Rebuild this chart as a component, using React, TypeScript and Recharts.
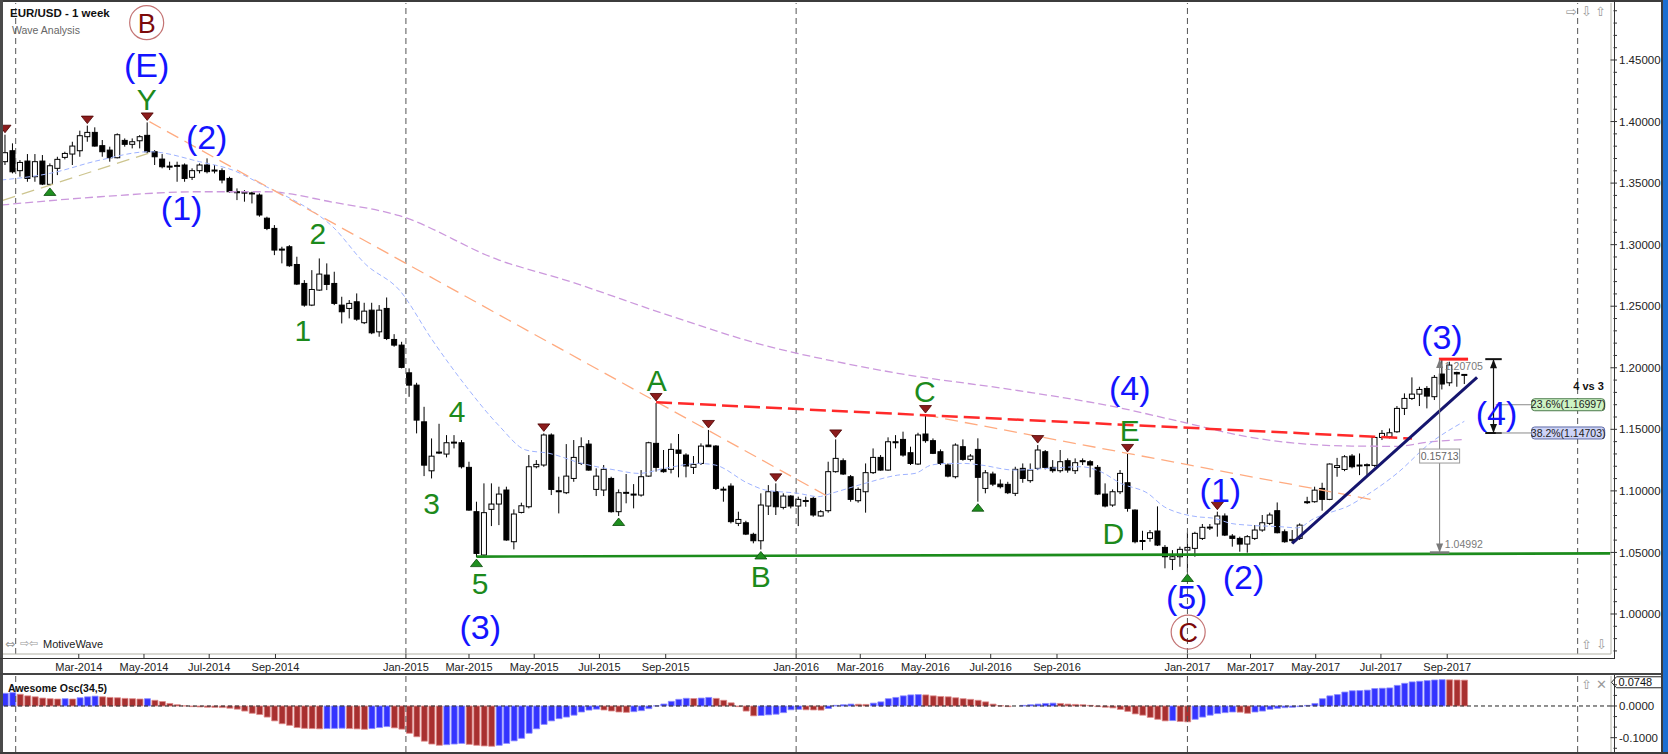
import React from 'react';
import { ComposedChart, Bar, Line, Scatter, XAxis, YAxis, ReferenceLine, ReferenceDot, Cell } from 'recharts';

const FONT = "'Liberation Sans', Arial, Helvetica, sans-serif";
const ICON_FONT = "'DejaVu Sans', sans-serif";

// ---------------- data ----------------
const FIRST_WEEK = '2013-12-22'; // week index 0

const OPEN = [
  1.3674, 1.3763, 1.3601, 1.3679, 1.3552, 1.3679, 1.3490, 1.3620, 1.3709, 1.3736,
  1.3763, 1.3877, 1.3912, 1.3804, 1.3768, 1.3706, 1.3847, 1.3815, 1.3844, 1.3888,
  1.3755, 1.3695, 1.3638, 1.3636, 1.3647, 1.3547, 1.3601, 1.3647, 1.3600, 1.3601,
  1.3538, 1.3430, 1.3427, 1.3420, 1.3403, 1.3215, 1.3132, 1.2964, 1.2983, 1.2839,
  1.2685, 1.2509, 1.2631, 1.2753, 1.2685, 1.2509, 1.2482, 1.2536, 1.2366, 1.2468,
  1.2292, 1.2482, 1.2230, 1.2184, 1.1959, 1.1859, 1.1561, 1.1163, 1.1312, 1.1299,
  1.1393, 1.1391, 1.1191, 1.0831, 1.0479, 1.0850, 1.0893, 1.1007, 1.0587, 1.0825,
  1.0871, 1.1196, 1.1210, 1.1454, 1.1001, 1.0985, 1.1101, 1.1223, 1.1380, 1.1012,
  1.1007, 1.1101, 1.0831, 1.0985, 1.0974, 1.0966, 1.1120, 1.1386, 1.1175, 1.1175,
  1.1332, 1.1291, 1.1191, 1.1223, 1.1372, 1.1364, 1.1012, 1.1039, 1.0736, 1.0741,
  1.0647, 1.0595, 1.0877, 1.0993, 1.0866, 1.0958, 1.0877, 1.0920, 1.0939, 1.0796,
  1.0839, 1.1156, 1.1245, 1.1115, 1.0920, 1.0993, 1.1148, 1.1272, 1.1169, 1.1399,
  1.1418, 1.1310, 1.1218, 1.1462, 1.1408, 1.1318, 1.1210, 1.1115, 1.1359, 1.1256,
  1.1337, 1.1020, 1.1137, 1.1055, 1.1053, 1.0980, 1.1183, 1.1083, 1.1183, 1.1318,
  1.1191, 1.1164, 1.1245, 1.1164, 1.1245, 1.1237, 1.1191, 1.0974, 1.0885, 1.0993,
  1.1066, 1.0844, 1.0595, 1.0614, 1.0674, 1.0541, 1.0444, 1.0465, 1.0519, 1.0533,
  1.0614, 1.0704, 1.0731, 1.0796, 1.0633, 1.0614, 1.0568, 1.0614, 1.0682, 1.0736,
  1.0839, 1.0668, 1.0596, 1.0614, 1.0912, 1.0912, 1.1020, 1.0931, 1.1190, 1.1174,
  1.1283, 1.1205, 1.1210, 1.1207, 1.1434, 1.1440, 1.1480, 1.1670, 1.1751, 1.1786,
  1.1832, 1.1765, 1.1949, 1.1878, 1.1962, 1.1940,
];
const HIGH = [
  1.3893, 1.3823, 1.3687, 1.3736, 1.3736, 1.3728, 1.3660, 1.3714, 1.3755, 1.3836,
  1.3926, 1.3967, 1.3953, 1.3850, 1.3796, 1.3904, 1.3863, 1.3863, 1.3890, 1.3993,
  1.3768, 1.3736, 1.3674, 1.3674, 1.3660, 1.3620, 1.3660, 1.3701, 1.3647, 1.3620,
  1.3552, 1.3457, 1.3443, 1.3430, 1.3416, 1.3227, 1.3159, 1.2983, 1.2996, 1.2902,
  1.2712, 1.2793, 1.2888, 1.2848, 1.2780, 1.2577, 1.2550, 1.2604, 1.2528, 1.2528,
  1.2509, 1.2571, 1.2273, 1.2211, 1.1995, 1.1878, 1.1683, 1.1426, 1.1545, 1.1453,
  1.1453, 1.1413, 1.1237, 1.0912, 1.1061, 1.1061, 1.1034, 1.1034, 1.0850, 1.0904,
  1.1291, 1.1250, 1.1467, 1.1467, 1.1115, 1.1380, 1.1413, 1.1435, 1.1413, 1.1183,
  1.1210, 1.1115, 1.1012, 1.1137, 1.1055, 1.1169, 1.1399, 1.1714, 1.1332, 1.1386,
  1.1462, 1.1305, 1.1283, 1.1386, 1.1495, 1.1372, 1.1034, 1.1061, 1.0831, 1.0757,
  1.0660, 1.0980, 1.1047, 1.1061, 1.0980, 1.0966, 1.0953, 1.0953, 1.0953, 1.0844,
  1.1237, 1.1418, 1.1264, 1.1129, 1.1028, 1.1223, 1.1345, 1.1291, 1.1435, 1.1453,
  1.1481, 1.1359, 1.1472, 1.1616, 1.1426, 1.1337, 1.1223, 1.1386, 1.1418, 1.1299,
  1.1427, 1.1169, 1.1156, 1.1093, 1.1074, 1.1196, 1.1223, 1.1223, 1.1372, 1.1332,
  1.1250, 1.1332, 1.1264, 1.1264, 1.1264, 1.1250, 1.1210, 1.1061, 1.1012, 1.1169,
  1.1300, 1.0850, 1.0676, 1.0682, 1.0874, 1.0560, 1.0519, 1.0547, 1.0660, 1.0668,
  1.0731, 1.0731, 1.0831, 1.0817, 1.0649, 1.0628, 1.0641, 1.0722, 1.0804, 1.0823,
  1.0906, 1.0687, 1.0682, 1.0736, 1.0952, 1.1034, 1.1066, 1.1223, 1.1268, 1.1290,
  1.1299, 1.1304, 1.1223, 1.1445, 1.1494, 1.1507, 1.1689, 1.1792, 1.1922, 1.1846,
  1.1851, 1.1941, 1.2070, 1.2049, 1.1968, 1.1949,
];
const LOW = [
  1.3647, 1.3579, 1.3552, 1.3511, 1.3511, 1.3484, 1.3477, 1.3565, 1.3693, 1.3647,
  1.3714, 1.3836, 1.3796, 1.3714, 1.3674, 1.3701, 1.3796, 1.3782, 1.3782, 1.3741,
  1.3647, 1.3620, 1.3606, 1.3511, 1.3511, 1.3525, 1.3579, 1.3579, 1.3579, 1.3498,
  1.3422, 1.3362, 1.3349, 1.3335, 1.3227, 1.3118, 1.2915, 1.2848, 1.2820, 1.2672,
  1.2496, 1.2501, 1.2625, 1.2631, 1.2509, 1.2360, 1.2401, 1.2382, 1.2355, 1.2273,
  1.2252, 1.2225, 1.2171, 1.1995, 1.1764, 1.1467, 1.1120, 1.1101, 1.1299, 1.1272,
  1.1345, 1.1182, 1.0839, 1.0462, 1.0470, 1.0714, 1.0722, 1.0595, 1.0525, 1.0817,
  1.0858, 1.1183, 1.1196, 1.0966, 1.0817, 1.0974, 1.1074, 1.1210, 1.1164, 1.0958,
  1.0958, 1.0823, 1.0796, 1.0899, 1.0858, 1.0953, 1.1115, 1.1156, 1.1148, 1.1142,
  1.1110, 1.1110, 1.1137, 1.1210, 1.1359, 1.1007, 1.0912, 1.0736, 1.0714, 1.0641,
  1.0574, 1.0524, 1.0804, 1.0804, 1.0850, 1.0858, 1.0714, 1.0871, 1.0790, 1.0790,
  1.0823, 1.1148, 1.1129, 1.0912, 1.0904, 1.0823, 1.1137, 1.1164, 1.1164, 1.1345,
  1.1278, 1.1210, 1.1210, 1.1391, 1.1299, 1.1210, 1.1110, 1.1101, 1.1245, 1.1240,
  1.0912, 1.0980, 1.1039, 1.1020, 1.0974, 1.0958, 1.1066, 1.1066, 1.1169, 1.1175,
  1.1148, 1.1148, 1.1148, 1.1137, 1.1210, 1.1110, 1.0966, 1.0866, 1.0871, 1.0974,
  1.0831, 1.0574, 1.0519, 1.0587, 1.0552, 1.0371, 1.0357, 1.0384, 1.0341, 1.0465,
  1.0601, 1.0682, 1.0628, 1.0633, 1.0547, 1.0506, 1.0498, 1.0601, 1.0668, 1.0722,
  1.0655, 1.0579, 1.0574, 1.0601, 1.0893, 1.0904, 1.0839, 1.0925, 1.1115, 1.1160,
  1.1183, 1.1128, 1.1120, 1.1196, 1.1413, 1.1426, 1.1472, 1.1616, 1.1738, 1.1689,
  1.1670, 1.1738, 1.1824, 1.1851, 1.1846, 1.1868,
];
const CLOSE = [
  1.3747, 1.3592, 1.3668, 1.3538, 1.3674, 1.3492, 1.3641, 1.3693, 1.3741, 1.3801,
  1.3885, 1.3912, 1.3801, 1.3755, 1.3706, 1.3893, 1.3815, 1.3836, 1.3877, 1.3755,
  1.3714, 1.3633, 1.3636, 1.3644, 1.3538, 1.3601, 1.3647, 1.3593, 1.3606, 1.3525,
  1.3430, 1.3427, 1.3420, 1.3416, 1.3241, 1.3132, 1.2956, 1.2960, 1.2829, 1.2680,
  1.2509, 1.2636, 1.2761, 1.2677, 1.2523, 1.2455, 1.2523, 1.2395, 1.2460, 1.2284,
  1.2468, 1.2238, 1.2184, 1.2003, 1.1859, 1.1575, 1.1209, 1.1282, 1.1315, 1.1391,
  1.1396, 1.1196, 1.0844, 1.0492, 1.0823, 1.0893, 1.0974, 1.0601, 1.0812, 1.0879,
  1.1196, 1.1215, 1.1454, 1.1012, 1.0995, 1.1120, 1.1272, 1.1359, 1.1169, 1.1120,
  1.1175, 1.0831, 1.0985, 1.0988, 1.0970, 1.1115, 1.1391, 1.1191, 1.1156, 1.1337,
  1.1305, 1.1202, 1.1215, 1.1364, 1.1359, 1.1020, 1.1014, 1.0750, 1.0768, 1.0649,
  1.0595, 1.0885, 1.0993, 1.0871, 1.0958, 1.0877, 1.0931, 1.0922, 1.0804, 1.0831,
  1.1156, 1.1264, 1.1137, 1.0931, 1.1012, 1.1148, 1.1272, 1.1169, 1.1399, 1.1396,
  1.1291, 1.1223, 1.1454, 1.1408, 1.1305, 1.1223, 1.1120, 1.1372, 1.1256, 1.1283,
  1.1110, 1.1147, 1.1055, 1.1034, 1.0985, 1.1175, 1.1101, 1.1169, 1.1332, 1.1191,
  1.1164, 1.1237, 1.1169, 1.1229, 1.1243, 1.1210, 1.0974, 1.0877, 1.0993, 1.1142,
  1.0858, 1.0587, 1.0597, 1.0660, 1.0560, 1.0465, 1.0465, 1.0525, 1.0541, 1.0655,
  1.0704, 1.0706, 1.0796, 1.0641, 1.0614, 1.0568, 1.0628, 1.0682, 1.0741, 1.0804,
  1.0660, 1.0587, 1.0606, 1.0722, 1.0910, 1.1006, 1.0931, 1.1218, 1.1205, 1.1277,
  1.1196, 1.1210, 1.1213, 1.1434, 1.1467, 1.1472, 1.1670, 1.1751, 1.1786, 1.1824,
  1.1770, 1.1922, 1.1868, 1.2022, 1.1950, 1.1946,
];

// Awesome Oscillator (34,5), one value per week
const AO = [
  0.040, 0.042, 0.037, 0.032, 0.029, 0.025, 0.023, 0.022, 0.023, 0.022,
  0.026, 0.029, 0.031, 0.029, 0.027, 0.026, 0.024, 0.023, 0.022, 0.023,
  0.018, 0.014, 0.008, 0.004, 0.0005, -0.002, -0.003, -0.004, -0.0045, -0.005,
  -0.007, -0.010, -0.016, -0.023, -0.027, -0.035, -0.047, -0.056, -0.061, -0.068,
  -0.0705, -0.0712, -0.072, -0.0712, -0.0706, -0.070, -0.0712, -0.0722, -0.0735, -0.0712,
  -0.068, -0.065, -0.069, -0.073, -0.086, -0.097, -0.111, -0.120, -0.124, -0.122,
  -0.120, -0.118, -0.121, -0.124, -0.126, -0.127, -0.124, -0.118, -0.110, -0.102,
  -0.086, -0.072, -0.058, -0.047, -0.040, -0.035, -0.029, -0.019, -0.013, -0.010,
  -0.0126, -0.0158, -0.0189, -0.0200, -0.0179, -0.0147, -0.0084, 0.0005, 0.0063, 0.0147,
  0.0210, 0.0242, 0.0235, 0.0250, 0.0270, 0.0240, 0.0180, 0.0100, -0.0020, -0.0160,
  -0.0310, -0.0300, -0.0280, -0.0260, -0.0210, -0.0120, -0.0105, -0.0120, -0.0125, -0.0130,
  -0.0080, 0.0020, 0.0040, 0.0060, 0.0055, 0.0050, 0.0090, 0.0130, 0.0230, 0.0270,
  0.0320, 0.0350, 0.0360, 0.0350, 0.0320, 0.0300, 0.0290, 0.0260, 0.0230, 0.0210,
  0.0180, 0.0130, 0.0060, 0.0010, -0.0020, 0.0000, 0.0020, 0.0040, 0.0060, 0.0080,
  0.0090, 0.0080, 0.0060, 0.0050, 0.0040, 0.0020, -0.0020, -0.0040, -0.0060, -0.0110,
  -0.0170, -0.0250, -0.0290, -0.0360, -0.0420, -0.0470, -0.0460, -0.0490, -0.0500, -0.0420,
  -0.0350, -0.0290, -0.0240, -0.0210, -0.0190, -0.0195, -0.0230, -0.0190, -0.0160, -0.0105,
  -0.0074, -0.0053, -0.0042, -0.0020, 0.0020, 0.0080, 0.0230, 0.0320, 0.0360, 0.0440,
  0.0480, 0.0485, 0.0500, 0.0550, 0.0560, 0.0570, 0.0650, 0.0715, 0.0760, 0.0780,
  0.0800, 0.0820, 0.0830, 0.0825, 0.0820, 0.0815,
];

// moving averages [week, value]
const MA_FAST = [
  [-0.5, 1.3525], [6, 1.3579], [12.7, 1.3687], [19.3, 1.3755], [26, 1.3674], [30.4, 1.3606],
  [34.9, 1.3471], [38, 1.3380], [43.8, 1.3145], [48.2, 1.2840], [52.7, 1.2631], [57.1, 1.2225],
  [61.6, 1.1850], [66, 1.1530], [69.6, 1.1332], [72.7, 1.1305], [77.1, 1.1223], [81.6, 1.1169],
  [84.7, 1.1142], [88.2, 1.1183], [92.7, 1.1223], [94.9, 1.1210], [99.3, 1.1061], [101.6, 1.1007],
  [106, 1.0980], [108.7, 1.0953], [110.4, 1.0980], [114.9, 1.1061], [119.3, 1.1128], [121.6, 1.1142],
  [123.8, 1.1210], [126, 1.1223], [128.2, 1.1223], [130.4, 1.1210], [134.9, 1.1169], [139.3, 1.1183],
  [143.8, 1.1196], [146.4, 1.1156], [149.1, 1.1061], [152.7, 1.0980], [154.9, 1.0871], [157.1, 1.0817],
  [159.3, 1.0790], [161.6, 1.0777], [163.8, 1.0736], [166, 1.0722], [170.4, 1.0709], [172.7, 1.0700],
  [174.9, 1.0775], [177.1, 1.0825], [179.3, 1.0871], [181.6, 1.0952], [186, 1.1142], [190.4, 1.1386],
  [195, 1.1565],
];
const MA_SLOW = [
  [-0.5, 1.3322], [12.7, 1.3389], [26, 1.3430], [34.9, 1.3430], [43.8, 1.3345], [52.7, 1.3235],
  [66, 1.2875], [75, 1.2710], [88, 1.2440], [101.6, 1.2180], [112.7, 1.2030], [119.3, 1.1955],
  [134.9, 1.1819], [148.2, 1.1684], [157.1, 1.1562], [166, 1.1440], [172, 1.1390], [179, 1.1365],
  [186, 1.1362], [190, 1.1395], [195, 1.1418],
];

// trend lines [week, price]
const ORANGE_1 = [[19.3, 1.3999], [110, 1.0953]];
const ORANGE_2 = [[123, 1.1616], [183, 1.0925]];
const OLIVE = [[-0.3, 1.3360], [19.3, 1.3745]];
const RED_DASHED = [[87, 1.1720], [188, 1.1425]];
const GREEN_SUPPORT = [[63, 1.0466], [214.5, 1.0492]];
const NAVY_TREND = [[172, 1.0574], [196.7, 1.1922]];
const RED_TOP = [[191.6, 1.2070], [195.5, 1.2070]];

// swing markers (week indices)
const TOP_MARKS = [0, 11, 19, 72, 87, 94, 103, 111, 123, 138, 150, 162];
const BOTTOM_MARKS = [6, 63, 82, 101, 130, 158];

// wave labels [text, week, price]
const BLUE_LABELS = [
  ['(E)', 18.93, 1.4459], ['(2)', 26.95, 1.3877], ['(1)', 23.6, 1.3297], ['(3)', 63.5, 0.9896],
  ['(4)', 150.3, 1.1833], ['(1)', 162.4, 1.1007], ['(2)', 165.5, 1.0302], ['(5)', 157.9, 1.0137],
  ['(3)', 192, 1.2252], ['(4)', 199.3, 1.1629],
];
const GREEN_LABELS = [
  ['Y', 18.93, 1.4180], ['2', 41.8, 1.3094], ['1', 39.8, 1.2306], ['4', 60.4, 1.1643],
  ['3', 57.0, 1.0899], ['5', 63.5, 1.0249], ['A', 87.1, 1.1900], ['B', 101, 1.0302],
  ['C', 122.9, 1.1805], ['E', 150.3, 1.1494], ['D', 148.1, 1.0655],
];
const CIRCLE_LABELS = [['B', 18.93, 1.4803], ['C', 158.1, 0.9853]];
const NOTE_LABELS = [['4 vs 3', 211.6, 1.1850]];

// fibonacci retracement of wave (3)
const FIB_WEEK = 198.9;
const FIB_TOP = 1.2070;
const FIB_BOTTOM = 1.1470;
const FIB_LEVELS = [['23.6%(1.16997)', 1.16997], ['38.2%(1.14703)', 1.14703]];
const FIB_LABEL_WEEK = 204;
// measurement of wave (3)
const MEASURE_WEEK = 191.7;
const MEASURE_TOP = 1.20705;
const MEASURE_BOTTOM = 1.04992;
const MEASURE_TEXTS = [['1.20705', 192.4, 1.2008], ['1.04992', 192.4, 1.0565]];
const MEASURE_DIFF = ['0.15713', 191.7, 1.1283];

// right-axis value tags
const PRICE_TAGS = [['1.19463', 1.19463, 'cur'], ['1.15654', 1.15654, 'ma'], ['1.14182', 1.14182, 'ma']];
const AO_TAG = ['0.0748', 0.0748];

// axes
const X_TICK_LABELS = ['Mar-2014', 'May-2014', 'Jul-2014', 'Sep-2014', 'Jan-2015', 'Mar-2015', 'May-2015',
  'Jul-2015', 'Sep-2015', 'Jan-2016', 'Mar-2016', 'May-2016', 'Jul-2016', 'Sep-2016', 'Jan-2017',
  'Mar-2017', 'May-2017', 'Jul-2017', 'Sep-2017'];
const YEAR_LINES = ['Jan-2014', 'Jan-2015', 'Jan-2016', 'Jan-2017', 'Jan-2018'];
const PRICE_MAJOR = [1.0, 1.05, 1.1, 1.15, 1.2, 1.25, 1.3, 1.35, 1.4, 1.45];
const AO_MAJOR = [0, -0.1];

// ---------------- helpers ----------------
const MONTHS = ['Jan', 'Feb', 'Mar', 'Apr', 'May', 'Jun', 'Jul', 'Aug', 'Sep', 'Oct', 'Nov', 'Dec'];
const START = Date.parse(FIRST_WEEK + 'T00:00:00Z');
const dayOf = (label: string) => {
  const [m, y] = label.split('-');
  return (Date.UTC(+y, MONTHS.indexOf(m), 1) - START) / 86400000;
};
const wk = (k: number) => k * 7;
const tickDays = X_TICK_LABELS.map(dayOf);
const yearDays = YEAR_LINES.map(dayOf);
const tickFmt = (v: number) => X_TICK_LABELS[tickDays.indexOf(v)] ?? '';

const T0 = -1.871;
const T1 = 1502.2;
const PMIN = 0.9675;
const PMAX = 1.4963;
const AOMIN = -0.1451;
const AOMAX = 0.0946;

const priceTicks: number[] = [];
for (let i = 97; i <= 149; i++) priceTicks.push(i / 100);
const aoTicks = [2 / 30, 1 / 30, 0, -1 / 30, -2 / 30, -0.1, -4 / 30];
const tagTicks = PRICE_TAGS.map((t) => t[1] as number);

const candles = OPEN.map((o, k) => ({ t: wk(k), o, h: HIGH[k], l: LOW[k], c: CLOSE[k], range: [LOW[k], HIGH[k]] }));
const aoData = AO.map((v, k) => ({ t: wk(k), ao: v, up: k === 0 ? true : v >= AO[k - 1] }));
const toPts = (arr: number[][]) => arr.map(([k, v]) => ({ t: wk(k), v }));
const seg = (arr: number[][]) => arr.map(([k, v]) => ({ x: wk(k), y: v }));
const labelPts = (arr: any[]) => arr.map(([text, k, v]) => ({ t: wk(k), v, text }));

const topMarks = TOP_MARKS.map((k) => ({ t: wk(k), v: HIGH[k] }));
const bottomMarks = BOTTOM_MARKS.map((k) => ({ t: wk(k), v: LOW[k] }));

// ---------------- shapes ----------------
const BODY_W = 5;
const Candle = (p: any) => {
  const { x, y, width, height, payload } = p;
  if (x == null || payload == null || !isFinite(y) || !isFinite(height)) return null;
  const top = Math.min(y, y + height);
  const h = Math.abs(height);
  const span = payload.h - payload.l || 1e-9;
  const py = (v: number) => top + ((payload.h - v) / span) * h;
  const cx = x + (width || 0) / 2;
  const up = payload.c >= payload.o;
  const bt = py(Math.max(payload.o, payload.c));
  const bb = py(Math.min(payload.o, payload.c));
  return (
    <g>
      <line x1={cx} x2={cx} y1={top} y2={top + h} stroke="#000" strokeWidth={1} />
      <rect x={cx - BODY_W / 2} y={bt} width={BODY_W} height={Math.max(bb - bt, 1)} fill={up ? '#fff' : '#000'} stroke="#000" strokeWidth={1} />
    </g>
  );
};

const mkText = (color: string, size: number, weight: string = 'normal') => (p: any) => (
  <text x={p.cx} y={p.cy} fill={color} fontSize={size} fontWeight={weight} fontFamily={FONT}
    textAnchor="middle" dominantBaseline="central">{p.payload.text}</text>
);
const BlueText = mkText('#1414ff', 34);
const GreenText = mkText('#1c8a1c', 30);
const NoteText = mkText('#111', 11, 'bold');

const CircleText = (p: any) => (
  <g>
    <circle cx={p.cx} cy={p.cy} r={17} fill="none" stroke="#c47474" strokeWidth={1.2} />
    <text x={p.cx} y={p.cy + 1} fill="#7c0a0a" fontSize={27} fontFamily={FONT} textAnchor="middle" dominantBaseline="central">{p.payload.text}</text>
  </g>
);

const DownTri = (p: any) => (
  <polygon points={`${p.cx - 6},${p.cy - 9.5} ${p.cx + 6},${p.cy - 9.5} ${p.cx},${p.cy - 2}`} fill="#8c1c1c" stroke="#4a0000" strokeWidth={0.8} />
);
const UpTri = (p: any) => (
  <polygon points={`${p.cx - 6},${p.cy + 9.5} ${p.cx + 6},${p.cy + 9.5} ${p.cx},${p.cy + 2}`} fill="#1f8f1f" stroke="#0a4a0a" strokeWidth={0.8} />
);

const arrowShape = (color: string) => (p: any) => {
  const d = p.payload.dir; // -1 up, 1 down
  const bx = p.cy - d * 9;
  return <polygon points={`${p.cx - 3.5},${bx} ${p.cx + 3.5},${bx} ${p.cx},${p.cy}`} fill={color} />;
};

const FibBox = (p: any) => {
  const green = p.payload.text.startsWith('23');
  return (
    <g>
      <rect x={p.cx} y={p.cy - 6} width={73} height={12} rx={3} ry={3} fill={green ? '#cdf3c4' : '#cdd3f7'} stroke={green ? '#4d7a4d' : '#5f6aa6'} strokeWidth={1} />
      <text x={p.cx + 36.5} y={p.cy} dy="0.35em" textAnchor="middle" fontSize={10.5} fill="#222" fontFamily={FONT}>{p.payload.text}</text>
    </g>
  );
};
const GrayText = (p: any) => (
  <text x={p.cx} y={p.cy} dy="0.35em" fontSize={10.5} fill="#7a7a7a" fontFamily={FONT}>{p.payload.text}</text>
);
const DiffBox = (p: any) => (
  <g>
    <rect x={p.cx - 20} y={p.cy - 7} width={40} height={14} fill="#fff" stroke="#999" strokeWidth={1} />
    <text x={p.cx} y={p.cy} dy="0.35em" textAnchor="middle" fontSize={10.5} fill="#666" fontFamily={FONT}>{p.payload.text}</text>
  </g>
);

const drawTag = (x0: number, cy: number, label: string, fill: string, stroke: string) => {
  const h = 11;
  return (
    <g>
      <path d={`M${x0},${cy} L${x0 + 5},${cy - h / 2} L${x0 + 50},${cy - h / 2} L${x0 + 50},${cy + h / 2} L${x0 + 5},${cy + h / 2} Z`} fill={fill} stroke={stroke} strokeWidth={1} />
      <text x={x0 + 7} y={cy} dy="0.36em" fontSize={11} fill="#111" fontFamily={FONT}>{label}</text>
    </g>
  );
};

const PriceTick = (p: any) => {
  const { x, y, payload } = p;
  const v = payload.value;
  const major = PRICE_MAJOR.some((m) => Math.abs(m - v) < 1e-6);
  const ax = x - 8;
  return (
    <g>
      <line x1={major ? ax - 0.5 : ax + 2.5} x2={ax + 6} y1={y} y2={y} stroke="#333" strokeWidth={1} />
      {major && <text x={x} y={y} dy="0.36em" fontSize={11.5} fill="#222" fontFamily={FONT}>{v.toFixed(5)}</text>}
    </g>
  );
};
// tags are drawn by an outer (zero-width) axis so they sit above the tick labels
const TagTick = (p: any) => {
  const { x, y, payload } = p;
  const tag = PRICE_TAGS.find((t) => Math.abs((t[1] as number) - payload.value) < 1e-7);
  if (!tag) return null;
  const cur = tag[2] === 'cur';
  return drawTag(x - 57 + 0.5, y, tag[0] as string, cur ? '#c9d0f5' : '#fff', cur ? '#5a68a8' : '#222');
};
const AoTick = (p: any) => {
  const { x, y, payload } = p;
  const v = payload.value;
  const major = AO_MAJOR.some((m) => Math.abs(m - v) < 1e-6);
  const ax = x - 8;
  return (
    <g>
      <line x1={major ? ax - 0.5 : ax + 2.5} x2={ax + 6} y1={y} y2={y} stroke="#333" strokeWidth={1} />
      {major && <text x={x} y={y} dy="0.36em" fontSize={11.5} fill="#222" fontFamily={FONT}>{v.toFixed(4)}</text>}
    </g>
  );
};

const abs = (style: any) => ({ position: 'absolute' as const, ...style });
const icon = (ch: string, left: number, top: number, size = 13) => (
  <div style={abs({ left, top, fontFamily: ICON_FONT, fontSize: size, color: '#9a9a9a', lineHeight: 1 })}>{ch}</div>
);

export default function App() {
  return (
    <div style={{ position: 'relative', width: 1668, height: 754, background: '#fff', overflow: 'hidden', fontFamily: FONT }}>
      <style>{'body{margin:0;padding:0;background:#fff;}'}</style>

      <div style={abs({ left: 0, top: 0 })}>
        <ComposedChart width={1668} height={674} data={candles} margin={{ top: 3, right: 0, bottom: 0, left: 3 }}>
          <XAxis dataKey="t" type="number" domain={[T0, T1]} allowDataOverflow ticks={tickDays} interval={0}
            tickFormatter={tickFmt} height={20} tickSize={4} tickMargin={5}
            axisLine={{ stroke: '#b2b2a6' }} tickLine={{ stroke: '#333' }}
            tick={{ fontSize: 11, fill: '#222', fontFamily: FONT }} />
          <YAxis orientation="right" type="number" domain={[PMIN, PMAX]} allowDataOverflow ticks={priceTicks} interval={0}
            width={57} tickSize={6} tickMargin={2} tickLine={false} axisLine={{ stroke: '#b2b2a6' }} tick={<PriceTick />} />
          <YAxis yAxisId="tags" orientation="right" type="number" domain={[PMIN, PMAX]} allowDataOverflow ticks={tagTicks} interval={0}
            width={0} tickSize={0} tickMargin={0} tickLine={false} axisLine={false} tick={<TagTick />} />

          {yearDays.map((d) => (
            <ReferenceLine key={'y' + d} x={d} stroke="#555" strokeDasharray="6 4" strokeWidth={1} ifOverflow="visible" />
          ))}

          <Line data={toPts(MA_SLOW)} dataKey="v" type="monotone" stroke="#cc99dd" strokeWidth={1.3} strokeDasharray="8 4" dot={false} isAnimationActive={false} />
          <Line data={toPts(MA_FAST)} dataKey="v" type="monotone" stroke="#9fb3ff" strokeWidth={1} strokeDasharray="5 3" dot={false} isAnimationActive={false} />
          <ReferenceLine segment={seg(ORANGE_1)} stroke="#ffab80" strokeWidth={1.3} strokeDasharray="13 7" ifOverflow="visible" />
          <ReferenceLine segment={seg(ORANGE_2)} stroke="#ffab80" strokeWidth={1.3} strokeDasharray="13 7" ifOverflow="visible" />
          <ReferenceLine segment={seg(OLIVE)} stroke="#cdc58f" strokeWidth={1.3} strokeDasharray="13 7" ifOverflow="visible" />

          <Bar dataKey="range" barSize={5} shape={(p: any) => <Candle {...p} />} isAnimationActive={false} />

          <ReferenceLine segment={seg(RED_DASHED)} stroke="#ff2a2a" strokeWidth={2.5} strokeDasharray="16 6" ifOverflow="visible" />
          <ReferenceLine segment={seg(GREEN_SUPPORT)} stroke="#1c8c1c" strokeWidth={2.6} ifOverflow="visible" />
          <ReferenceLine segment={seg(NAVY_TREND)} stroke="#15156e" strokeWidth={3} ifOverflow="visible" />
          <ReferenceLine segment={seg(RED_TOP)} stroke="#ff2020" strokeWidth={3} ifOverflow="visible" />

          {/* measurement of wave (3) */}
          <ReferenceLine segment={[{ x: wk(MEASURE_WEEK), y: MEASURE_TOP }, { x: wk(MEASURE_WEEK), y: MEASURE_BOTTOM }]} stroke="#7a7a7a" strokeWidth={1} ifOverflow="visible" />
          <ReferenceLine segment={[{ x: wk(MEASURE_WEEK - 1.3), y: MEASURE_BOTTOM }, { x: wk(MEASURE_WEEK + 1.3), y: MEASURE_BOTTOM }]} stroke="#7a7a7a" strokeWidth={2.5} ifOverflow="visible" />
          <Scatter data={[{ t: wk(MEASURE_WEEK), v: MEASURE_TOP, dir: -1 }, { t: wk(MEASURE_WEEK), v: MEASURE_BOTTOM, dir: 1 }]} dataKey="v" shape={arrowShape('#7a7a7a')} isAnimationActive={false} />
          <Scatter data={labelPts(MEASURE_TEXTS)} dataKey="v" shape={GrayText} isAnimationActive={false} />
          <Scatter data={labelPts([MEASURE_DIFF])} dataKey="v" shape={DiffBox} isAnimationActive={false} />

          {/* fibonacci */}
          <ReferenceLine segment={[{ x: wk(FIB_WEEK), y: FIB_TOP }, { x: wk(FIB_WEEK), y: FIB_BOTTOM }]} stroke="#111" strokeWidth={1.2} ifOverflow="visible" />
          <ReferenceLine segment={[{ x: wk(FIB_WEEK - 1.1), y: FIB_TOP }, { x: wk(FIB_WEEK + 1.1), y: FIB_TOP }]} stroke="#111" strokeWidth={2} ifOverflow="visible" />
          <ReferenceLine segment={[{ x: wk(FIB_WEEK - 1.1), y: FIB_BOTTOM }, { x: wk(FIB_WEEK + 1.1), y: FIB_BOTTOM }]} stroke="#111" strokeWidth={2} ifOverflow="visible" />
          {FIB_LEVELS.map(([t, v]: any) => (
            <ReferenceLine key={t} segment={[{ x: wk(FIB_WEEK + 0.3), y: v }, { x: wk(FIB_LABEL_WEEK), y: v }]} stroke="#8a8a8a" strokeWidth={1} ifOverflow="visible" />
          ))}
          <Scatter data={[{ t: wk(FIB_WEEK), v: FIB_TOP, dir: -1 }, { t: wk(FIB_WEEK), v: FIB_BOTTOM, dir: 1 }]} dataKey="v" shape={arrowShape('#111')} isAnimationActive={false} />
          <Scatter data={FIB_LEVELS.map(([text, v]: any) => ({ t: wk(FIB_LABEL_WEEK), v, text }))} dataKey="v" shape={FibBox} isAnimationActive={false} />

          <Scatter data={topMarks} dataKey="v" shape={DownTri} isAnimationActive={false} />
          <Scatter data={bottomMarks} dataKey="v" shape={UpTri} isAnimationActive={false} />

          <Scatter data={labelPts(BLUE_LABELS)} dataKey="v" shape={BlueText} isAnimationActive={false} />
          <Scatter data={labelPts(GREEN_LABELS)} dataKey="v" shape={GreenText} isAnimationActive={false} />
          <Scatter data={labelPts(CIRCLE_LABELS)} dataKey="v" shape={CircleText} isAnimationActive={false} />
          <Scatter data={labelPts(NOTE_LABELS)} dataKey="v" shape={NoteText} isAnimationActive={false} />
        </ComposedChart>
      </div>

      <div style={abs({ left: 0, top: 674 })}>
        <ComposedChart width={1668} height={78} data={aoData} margin={{ top: 2, right: 0, bottom: 0, left: 3 }}>
          <XAxis dataKey="t" type="number" domain={[T0, T1]} allowDataOverflow hide />
          <YAxis orientation="right" type="number" domain={[AOMIN, AOMAX]} allowDataOverflow ticks={aoTicks} interval={0}
            width={57} tickSize={6} tickMargin={2} tickLine={false} axisLine={{ stroke: '#b2b2a6' }} tick={<AoTick />} />
          {yearDays.map((d) => (
            <ReferenceLine key={'ya' + d} x={d} stroke="#555" strokeDasharray="6 4" strokeWidth={1} ifOverflow="visible" />
          ))}
          <ReferenceLine y={0} stroke="#222" strokeDasharray="4 3" strokeWidth={1} />
          <Bar dataKey="ao" barSize={6} isAnimationActive={false}>
            {aoData.map((d, i) => (
              <Cell key={i} fill={d.up ? '#3434ff' : '#a83030'} stroke={d.up ? '#8a8aff' : '#e08a8a'} strokeWidth={0.8} />
            ))}
          </Bar>
          <ReferenceDot x={T1} y={AO_TAG[1] as number} r={0} ifOverflow="visible"
            shape={(p: any) => drawTag(p.cx + 0.5, p.cy, AO_TAG[0] as string, '#fff', '#222')} />
        </ComposedChart>
      </div>

      {/* texts */}
      <div style={abs({ left: 10, top: 7, fontSize: 11.5, fontWeight: 'bold', color: '#111', whiteSpace: 'nowrap' })}>EUR/USD - 1 week</div>
      <div style={abs({ left: 12, top: 24, fontSize: 10.5, color: '#666', whiteSpace: 'nowrap' })}>Wave Analysis</div>
      <div style={abs({ left: 43, top: 638, fontSize: 11, color: '#222', whiteSpace: 'nowrap' })}>MotiveWave</div>
      <div style={abs({ left: 8, top: 682, fontSize: 10.5, fontWeight: 'bold', color: '#111', whiteSpace: 'nowrap' })}>Awesome Osc(34,5)</div>

      {icon('⇔', 5, 638, 12)}
      {icon('⇨', 20, 638, 11)}
      {icon('⇦', 29, 638, 11)}
      {icon('⇨', 1566, 5)}
      {icon('⇩', 1581, 5)}
      {icon('⇧', 1595, 5)}
      {icon('⇧', 1581, 638)}
      {icon('⇩', 1596, 638)}
      {icon('⇧', 1581, 678)}
      {icon('✕', 1596, 678)}

      {/* frame */}
      <div style={abs({ left: 0, top: 0, width: 1668, height: 2, background: '#3c3c3c' })} />
      <div style={abs({ left: 0, top: 0, width: 3, height: 754, background: '#4a4a4a' })} />
      <div style={abs({ left: 1661, top: 0, width: 2, height: 754, background: '#3c3c3c' })} />
      <div style={abs({ left: 1663, top: 0, width: 5, height: 754, background: '#1c6fd1' })} />
      <div style={abs({ left: 0, top: 752, width: 1668, height: 2, background: '#3c3c3c' })} />
      <div style={abs({ left: 1614, top: 0, width: 1, height: 659, background: '#333' })} />
      <div style={abs({ left: 0, top: 658, width: 1615, height: 1, background: '#333' })} />
      <div style={abs({ left: 0, top: 673, width: 1661, height: 2, background: '#444' })} />
      <div style={abs({ left: 1614, top: 675, width: 1, height: 77, background: '#333' })} />
    </div>
  );
}
